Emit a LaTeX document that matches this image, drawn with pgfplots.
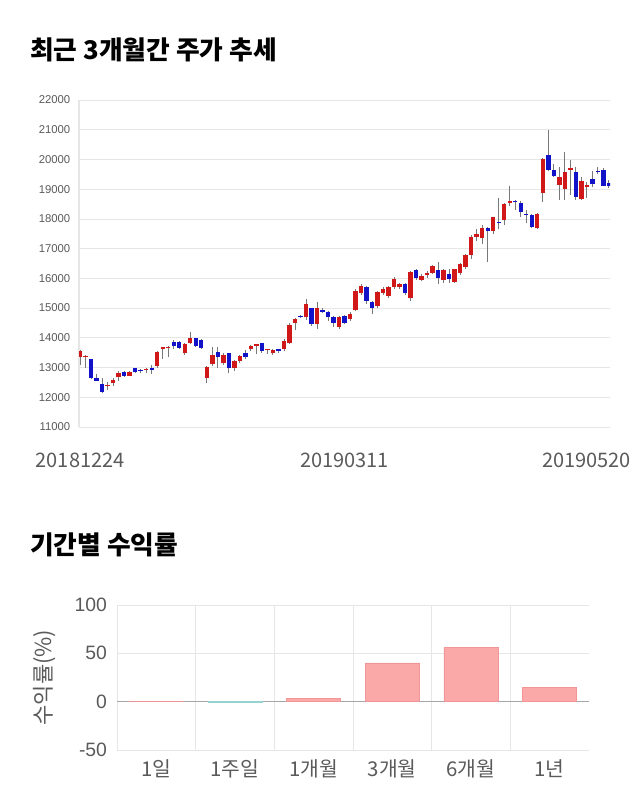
\documentclass[border=0pt]{standalone}
\usepackage{pgfplots}
\pgfplotsset{compat=1.18}
\usepackage{pgfplotstable}
\usepackage{fontspec}
\setmainfont{Liberation Sans}
\newfontfamily\kr{Noto Sans CJK KR}
\definecolor{upc}{RGB}{208,24,24}
\definecolor{dnc}{RGB}{18,18,200}
\definecolor{wickc}{RGB}{120,120,120}
\definecolor{gridc}{RGB}{230,230,230}
\definecolor{tickc}{RGB}{90,90,90}
\definecolor{barc}{RGB}{250,168,168}
\definecolor{baredge}{RGB}{240,150,150}
\definecolor{tealc}{RGB}{150,210,210}

\pgfplotstableread{
i o c h l t
0 13360 13550 13600 13090 1
1 13350 13400 13420 12980 1
2 13280 12640 13300 12600 0
3 12640 12560 12780 12540 0
4 12440 12170 12640 12130 0
5 12380 12400 12500 12250 1
6 12470 12580 12650 12370 1
7 12670 12830 12880 12550 1
8 12860 12730 12900 12680 0
9 12730 12860 12900 12700 1
10 12970 12840 13000 12800 0
11 12900 12880 12950 12800 0
12 12910 12930 13000 12830 1
13 12970 12920 13080 12780 0
14 13050 13530 13550 12990 1
15 13640 13660 13700 13300 1
16 13650 13690 13720 13350 1
17 13870 13720 13920 13640 0
18 13870 13660 13900 13620 0
19 13480 13790 13820 13420 1
20 13810 13980 14210 13780 1
21 13980 13740 14000 13700 0
22 13920 13660 13950 13640 0
23 12640 13030 13060 12470 1
24 13120 13420 13700 13050 1
25 13510 13370 13700 13000 0
26 13150 13420 13480 13100 1
27 13480 12970 13500 12800 0
28 12970 13220 13250 12900 1
29 13230 13390 13420 13150 1
30 13500 13360 13600 13280 0
31 13620 13730 13750 13550 1
32 13740 13760 13800 13450 1
33 13810 13570 13830 13500 0
34 13580 13600 13620 13450 1
35 13480 13590 13640 13420 1
36 13620 13570 13640 13480 0
37 13620 13900 13950 13550 1
38 13840 14430 14500 13800 1
39 14490 14630 14680 14250 1
40 14730 14690 14780 14660 0
41 14690 15140 15300 14600 1
42 14990 14460 15000 14400 0
43 14460 14990 15200 14300 1
44 14940 14880 14990 14850 0
45 14880 14690 14900 14550 0
46 14690 14510 14720 14350 0
47 14370 14690 14750 14300 1
48 14730 14490 14760 14450 0
49 14630 14800 14880 14550 1
50 14940 15590 15650 14900 1
51 15500 15740 15800 15450 1
52 15700 15250 15750 15150 0
53 15210 14990 15250 14800 0
54 15080 15530 15560 15000 1
55 15500 15640 15700 15450 1
56 15420 15700 15750 15350 1
57 15700 15980 16050 15650 1
58 15720 15810 15850 15650 1
59 15810 15500 15850 15450 0
60 15330 16200 16250 15250 1
61 16280 16000 16300 15950 0
62 15940 16090 16150 15900 1
63 16100 16190 16250 16000 1
64 16190 16400 16450 16150 1
65 16280 16000 16550 15800 0
66 15940 16280 16320 15850 1
67 16150 15990 16300 15850 0
68 15890 16300 16330 15850 1
69 16190 16480 16520 16100 1
70 16390 16790 16820 16300 1
71 16790 17400 17450 16650 1
72 17380 17500 17650 17250 1
73 17350 17680 17780 17150 1
74 17680 17590 17720 16540 0
75 17590 18050 18080 17500 1
76 17880 17860 18700 17650 0
77 17960 18500 18550 17800 1
78 18550 18600 19100 18450 1
79 18600 18560 18650 18300 0
80 18540 18240 18600 18050 0
81 18180 18130 18300 17850 0
82 18130 17740 18150 17680 0
83 17680 18180 18200 17650 1
84 18880 20000 20050 18580 1
85 20150 19650 21000 19600 0
86 19650 19440 19850 19400 0
87 19140 19400 19750 18640 1
88 19000 19590 20260 18640 1
89 19650 19700 19980 18800 1
90 19590 18750 19750 18650 0
91 18660 19290 19400 18620 1
92 19080 19140 19250 18700 1
93 19340 19170 19600 19080 0
94 19610 19570 19750 19500 0
95 19650 19110 19700 19100 0
96 19200 19110 19300 19050 0
}\candles

\pgfplotstableread{
x r
0 0
2 3
3 40
4 56
5 15
}\returns

\begin{document}
\begin{tikzpicture}
\path[use as bounding box] (0pt,0pt) rectangle (480pt,607.5pt);

\node[anchor=west, inner sep=0pt, text=black] at (22.5pt,570pt) {\kr\bfseries\fontsize{19.3pt}{22pt}\selectfont 최근 3개월간 주가 추세};
\node[anchor=west, inner sep=0pt, text=black] at (22.5pt,198.75pt) {\kr\bfseries\fontsize{19.3pt}{22pt}\selectfont 기간별 수익률};

% candlestick chart
\begin{axis}[
  at={(59.25pt,287.25pt)}, anchor=south west,
  scale only axis, width=398.25pt, height=245.25pt,
  xmin=-0.2, xmax=96.2, ymin=11000, ymax=22000,
  ytick={11000,12000,...,22000},
  scaled y ticks=false,
  ymajorgrids, major grid style={gridc, line width=0.6pt},
  axis lines*=left,
  x axis line style={draw=none},
  y axis line style={gridc, line width=0.8pt},
  major tick length=0pt,
  /pgf/number format/.cd, 1000 sep={}, assume math mode=true, /pgfplots/.cd,
  yticklabel style={font=\fontsize{8.5pt}{10pt}\selectfont, text=tickc, xshift=-3pt},
  xtick={0,48}, xticklabels={20181224,20190311},
  xticklabel style={font=\kr\fontsize{15pt}{17pt}\selectfont, text=tickc, yshift=-16pt},
  extra x ticks={96}, extra x tick labels={20190520},
  extra x tick style={xticklabel style={anchor=north east, xshift=20pt}},
  clip=true,
]
\addplot[draw=none, mark=none,
  error bars/.cd, y dir=plus, y explicit, error mark=none,
  error bar style={draw=wickc, line width=0.6pt}]
  table[x=i, y=l, y error expr={\thisrow{h}-\thisrow{l}}] {\candles};
\addplot[draw=none, mark=none,
  restrict expr to domain={\thisrow{t}}{0.5:1.5},
  error bars/.cd, y dir=plus, y explicit, error mark=none,
  error bar style={draw=upc, line width=3.3pt}]
  table[x=i, y expr={min(\thisrow{o},\thisrow{c})}, y error expr={max(abs(\thisrow{c}-\thisrow{o}),40)}] {\candles};
\addplot[draw=none, mark=none,
  restrict expr to domain={\thisrow{t}}{-0.5:0.5},
  error bars/.cd, y dir=plus, y explicit, error mark=none,
  error bar style={draw=dnc, line width=3.3pt}]
  table[x=i, y expr={min(\thisrow{o},\thisrow{c})}, y error expr={max(abs(\thisrow{c}-\thisrow{o}),40)}] {\candles};
\end{axis}

% returns chart
\begin{axis}[
  at={(87.75pt,45pt)}, anchor=south west,
  scale only axis, width=354pt, height=108.75pt,
  xmin=-0.5, xmax=5.5, ymin=-50, ymax=100,
  ytick={-50,0,50,100},
  xtick={0,1,2,3,4,5},
  xticklabels={1일,1주일,1개월,3개월,6개월,1년},
  minor xtick={-0.5,0.5,1.5,2.5,3.5,4.5},
  xminorgrids, ymajorgrids,
  major grid style={gridc, line width=0.6pt},
  minor grid style={gridc, line width=0.6pt},
  axis line style={draw=none},
  major tick length=0pt, minor tick length=0pt,
  extra y ticks={0}, extra y tick labels={},
  extra y tick style={major grid style={black!35, line width=0.7pt}},
  /pgf/number format/assume math mode=true,
  yticklabel style={font=\fontsize{14.5pt}{16pt}\selectfont, text=tickc, xshift=-4pt},
  xticklabel style={font=\kr\fontsize{15.3pt}{17pt}\selectfont, text=tickc, yshift=-4pt},
  ylabel={\kr 수익률(\%)},
  every axis y label/.style={at={(axis description cs:-0.1525,0.5)}, rotate=90, anchor=center, font=\fontsize{16.5pt}{18pt}\selectfont, text=tickc},
  ybar, bar width=0.69,
]
\addplot[fill=barc, draw=baredge, line width=0.5pt, bar shift=0pt] table[x=x, y=r] {\returns};
\addplot[fill=tealc, draw=tealc, line width=0.5pt, bar shift=0pt] coordinates {(1,-0.4)};
\end{axis}
\end{tikzpicture}
\end{document}
